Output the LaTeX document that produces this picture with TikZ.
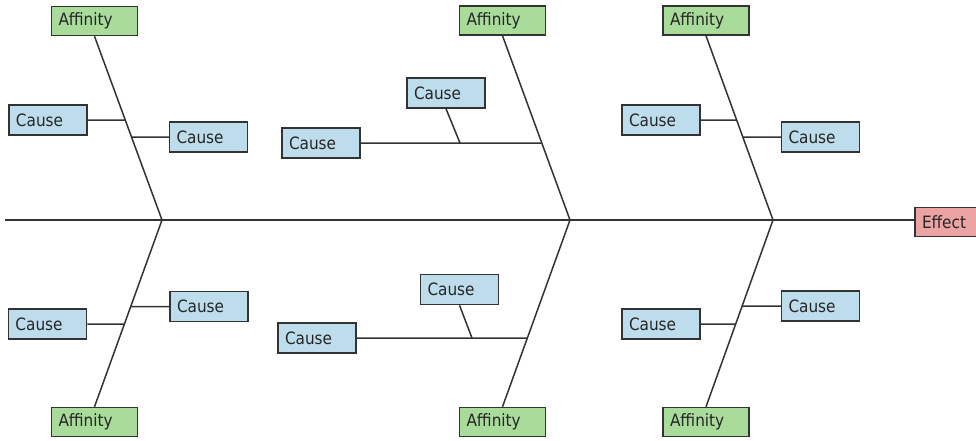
\documentclass[tikz,border=0pt]{standalone}
\usepackage{fontspec}
\setmainfont{DejaVu Sans Condensed}
\definecolor{affc}{HTML}{A9DB9B}
\definecolor{causec}{HTML}{BEDDEC}
\definecolor{effc}{HTML}{EBA3A3}
\definecolor{edgec}{HTML}{333333}
\definecolor{txtc}{HTML}{262626}
\begin{document}
\begin{tikzpicture}[x=1pt,y=-1pt,
  box/.style={draw=edgec, line width=1.5pt, inner ysep=0pt, inner xsep=7pt,
    text=txtc, align=left, font=\fontsize{17}{20}\selectfont, anchor=center},
  affbox/.style={box, fill=affc, text width=72pt, minimum height=29pt},
  causebox/.style={box, fill=causec, text width=64pt, minimum height=30pt},
  effbox/.style={box, fill=effc, text width=58pt, minimum height=29pt},
  bone/.style={draw=edgec, line width=1.5pt}]
\useasboundingbox (0,0) rectangle (976,440);

% junctions on the spine
\coordinate (S) at (5,220);
\coordinate (J1) at (162,220);
\coordinate (J2) at (570,220);
\coordinate (J3) at (773,220);

% effect
\node[effbox] (E) at (951,222) {Effect};

% left group
\node[affbox] (A1) at (94.5,21) {Affinity};
\node[causebox] (C1a) at (48,120) {Cause};
\node[causebox] (C1b) at (208.5,137) {Cause};
\node[affbox] (A2) at (94.5,422) {Affinity};
\node[causebox] (C2a) at (47.5,324) {Cause};
\node[causebox] (C2b) at (209,306.5) {Cause};

% middle group
\node[affbox] (A3) at (502.5,20.5) {Affinity};
\node[causebox] (C3a) at (321,143) {Cause};
\node[causebox] (C3b) at (446,93) {Cause};
\node[affbox] (A4) at (502.5,422) {Affinity};
\node[causebox] (C4a) at (317,338) {Cause};
\node[causebox] (C4b) at (459.5,289.5) {Cause};

% right group
\node[affbox] (A5) at (706,20.5) {Affinity};
\node[causebox] (C5a) at (661,120) {Cause};
\node[causebox] (C5b) at (820.5,137) {Cause};
\node[affbox] (A6) at (706,422) {Affinity};
\node[causebox] (C6a) at (661,324) {Cause};
\node[causebox] (C6b) at (820.5,306) {Cause};

% points where causes meet bones
\coordinate (k1a) at (intersection of A1.south--J1 and C1a.east--C1a.west);
\coordinate (k1b) at (intersection of A1.south--J1 and C1b.east--C1b.west);
\coordinate (k2a) at (intersection of A2.north--J1 and C2a.east--C2a.west);
\coordinate (k2b) at (intersection of A2.north--J1 and C2b.east--C2b.west);
\coordinate (k3) at (intersection of A3.south--J2 and C3a.east--C3a.west);
\coordinate (k4) at (intersection of A4.north--J2 and C4a.east--C4a.west);
\coordinate (k5a) at (intersection of A5.south--J3 and C5a.east--C5a.west);
\coordinate (k5b) at (intersection of A5.south--J3 and C5b.east--C5b.west);
\coordinate (k6a) at (intersection of A6.north--J3 and C6a.east--C6a.west);
\coordinate (k6b) at (intersection of A6.north--J3 and C6b.east--C6b.west);
\coordinate (m3) at (460,143);
\coordinate (m4) at (472,338);

% spine
\draw[bone] (S) -- (E.west |- S);

% bones
\draw[bone] (A1.south) -- (J1) -- (A2.north);
\draw[bone] (A3.south) -- (J2) -- (A4.north);
\draw[bone] (A5.south) -- (J3) -- (A6.north);

% cause connectors
\draw[bone] (C1a.east) -- (k1a);
\draw[bone] (C1b.west) -- (k1b);
\draw[bone] (C2a.east) -- (k2a);
\draw[bone] (C2b.west) -- (k2b);
\draw[bone] (C3a.east) -- (k3);
\draw[bone] (C3b.south) -- (m3);
\draw[bone] (C4a.east) -- (k4);
\draw[bone] (C4b.south) -- (m4);
\draw[bone] (C5a.east) -- (k5a);
\draw[bone] (C5b.west) -- (k5b);
\draw[bone] (C6a.east) -- (k6a);
\draw[bone] (C6b.west) -- (k6b);
\end{tikzpicture}
\end{document}
